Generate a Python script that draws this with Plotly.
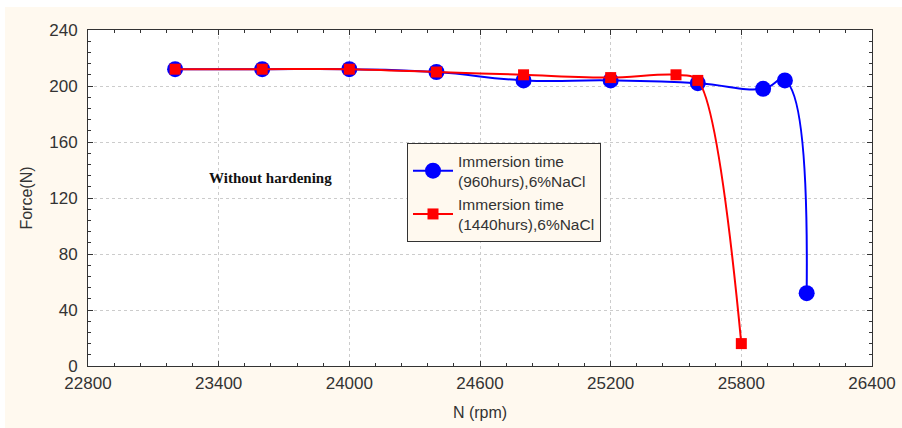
import plotly.graph_objects as go

rpm_960 = [23200, 23600, 24000, 24400, 24800, 25200, 25600, 25900, 26000, 26100]
force_960 = [212, 212, 212, 210, 204, 204, 202, 198, 204, 52]
rpm_1440 = [23200, 23600, 24000, 24400, 24800, 25200, 25500, 25600, 25800]
force_1440 = [212, 212, 212, 210, 208, 206, 208, 204, 16]

name_960 = "Immersion time<br>(960hurs),6%NaCl"
name_1440 = "Immersion time<br>(1440hurs),6%NaCl"
x_ticks = [22800, 23400, 24000, 24600, 25200, 25800, 26400]
y_ticks = [0, 40, 80, 120, 160, 200, 240]

cream = "#FFF9EF"
axis_col = "#333333"
txt_col = "#333333"

fig = go.Figure()
fig.add_trace(go.Scatter(
    x=rpm_960, y=force_960, name=name_960, mode="lines+markers",
    line=dict(color="#0000FF", width=2, shape="spline", smoothing=1.3),
    marker=dict(symbol="circle", size=16, color="#0000FF"),
))
fig.add_trace(go.Scatter(
    x=rpm_1440, y=force_1440, name=name_1440, mode="lines+markers",
    line=dict(color="#FF0000", width=2, shape="spline", smoothing=0.9),
    marker=dict(symbol="square", size=11, color="#FF0000"),
))

fig.add_annotation(x=23640, y=134, text="<b>Without hardening</b>", showarrow=False,
                   font=dict(family="Liberation Serif", size=15, color="#111111"))

W, H = 902, 428
L, R, T, B = 88, 30, 30, 62
pw, ph = W - L - R, H - T - B


def px2x(px):
    return (px - L) / pw


def py2y(py):
    return (H - B - py) / ph


# thin white strips at the top and left edge of the picture
fig.add_shape(type="rect", xref="paper", yref="paper", layer="above",
              x0=px2x(-2), x1=px2x(W + 2), y0=py2y(7), y1=py2y(-2),
              fillcolor="white", line=dict(width=0))
fig.add_shape(type="rect", xref="paper", yref="paper", layer="above",
              x0=px2x(-2), x1=px2x(5), y0=py2y(H + 2), y1=py2y(-2),
              fillcolor="white", line=dict(width=0))

axis_common = dict(
    showline=True, linecolor=axis_col, linewidth=1, mirror="ticks",
    ticks="inside", ticklen=5, tickcolor=axis_col,
    showgrid=True, gridcolor="#CCCCCC", griddash="dot", gridwidth=1,
    zeroline=False,
    tickfont=dict(family="Liberation Sans", size=17, color=txt_col),
)

fig.update_xaxes(
    range=[22800, 26400], tickvals=x_ticks, ticktext=[str(v) for v in x_ticks],
    title=dict(text="N (rpm)", font=dict(family="Liberation Sans", size=16, color=txt_col), standoff=14),
    minor=dict(dtick=120, tick0=22800, ticks="inside", ticklen=3, tickcolor=axis_col, showgrid=False),
    ticklabelstandoff=2,
    **axis_common,
)
fig.update_yaxes(
    range=[0, 240], tickvals=y_ticks, ticktext=[str(v) for v in y_ticks],
    title=dict(text="Force(N)", font=dict(family="Liberation Sans", size=16, color=txt_col), standoff=12),
    minor=dict(dtick=8, tick0=0, ticks="inside", ticklen=3, tickcolor=axis_col, showgrid=False),
    ticklabelstandoff=6,
    **axis_common,
)

fig.update_layout(
    width=W, height=H,
    margin=dict(l=L, r=R, t=T, b=B, autoexpand=False),
    paper_bgcolor=cream, plot_bgcolor="white",
    showlegend=True,
    legend=dict(x=px2x(407), y=py2y(143), xanchor="left", yanchor="top",
                bgcolor=cream, bordercolor=axis_col, borderwidth=1,
                font=dict(family="Liberation Sans", size=15.5, color=txt_col),
                tracegroupgap=0, itemwidth=40),
)

fig.write_html("out.html",
               config={"displayModeBar": False},
               post_script="document.body.style.margin='0';document.body.style.overflow='hidden';")
